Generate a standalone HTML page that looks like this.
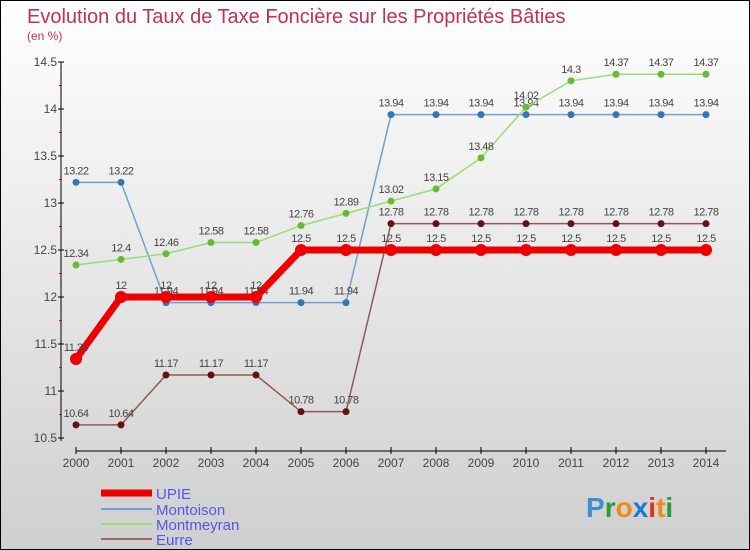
<!DOCTYPE html>
<html><head><meta charset="utf-8"><style>
body{margin:0}
#c{width:748px;height:548px;border:1px solid #000;background:linear-gradient(#fff,#cfcfcf);position:relative;font-family:"Liberation Sans",sans-serif;overflow:hidden}
</style></head><body>
<div id="c">
<svg id="s" width="748" height="548">
<text x="26" y="22" font-size="20" fill="#c0305a">Evolution du Taux de Taxe Foncière sur les Propriétés Bâties</text>
<text x="26" y="39" font-size="12" fill="#c0305a">(en %)</text>
<g font-size="15" fill="#5555ee">
<line x1="100" y1="492" x2="151" y2="492" stroke="#e00" stroke-width="7"/>
<text x="155" y="498">UPIE</text>
<line x1="100" y1="508" x2="151" y2="508" stroke="#6fa0d0" stroke-width="2"/>
<text x="155" y="514">Montoison</text>
<line x1="100" y1="523" x2="151" y2="523" stroke="#99dd77" stroke-width="2"/>
<text x="155" y="529">Montmeyran</text>
<line x1="100" y1="538" x2="151" y2="538" stroke="#996666" stroke-width="2"/>
<text x="155" y="544">Eurre</text>
</g>
<g font-size="28" font-weight="bold">
<text x="585" y="516"><tspan fill="#3a8fd0">P</tspan><tspan fill="#2a9a3a">r</tspan><tspan fill="#f08a10">o</tspan><tspan fill="#1a7ad0">x</tspan><tspan fill="#e03020">i</tspan><tspan fill="#f08a10">t</tspan><tspan fill="#2a9a3a">i</tspan></text>
</g>
</svg>
</div>
<script>
const years=["2000","2001","2002","2003","2004","2005","2006","2007","2008","2009","2010","2011","2012","2013","2014"];
const upie=[11.34,12,12,12,12,12.5,12.5,12.5,12.5,12.5,12.5,12.5,12.5,12.5,12.5];
const montoison=[13.22,13.22,11.94,11.94,11.94,11.94,11.94,13.94,13.94,13.94,13.94,13.94,13.94,13.94,13.94];
const montmeyran=[12.34,12.4,12.46,12.58,12.58,12.76,12.89,13.02,13.15,13.48,14.02,14.3,14.37,14.37,14.37];
const eurre=[10.64,10.64,11.17,11.17,11.17,10.78,10.78,12.78,12.78,12.78,12.78,12.78,12.78,12.78,12.78];
const yTicks=[10.5,11,11.5,12,12.5,13,13.5,14,14.5];
const s=document.getElementById('s'),NS='http://www.w3.org/2000/svg';
const X=i=>75+i*45, Y=v=>437-(v-10.5)*94;
function el(t,a,p){const e=document.createElementNS(NS,t);for(const k in a)e.setAttribute(k,a[k]);(p||s).appendChild(e);return e;}
const ax=el('g',{});


el('line',{x1:60,y1:61,x2:60,y2:440,stroke:'#000'},ax);
el('line',{x1:75,y1:450,x2:725,y2:450,stroke:'#000'},ax);
yTicks.forEach((v,i)=>{
  el('line',{x1:57,y1:Y(v),x2:63,y2:Y(v),stroke:'#000'},ax);
  if(i<yTicks.length-1)el('line',{x1:58,y1:Y(v)-23.5,x2:61,y2:Y(v)-23.5,stroke:'#e00'},ax);
  const t=el('text',{x:56,y:Y(v)+4,'font-size':12,fill:'#444','text-anchor':'end'},ax);t.textContent=v;
  
  
});
years.forEach((y,i)=>{
  el('line',{x1:X(i),y1:446,x2:X(i),y2:453,stroke:'#000'},ax);
  const t=el('text',{x:X(i),y:466,'font-size':12,fill:'#444','text-anchor':'middle'},ax);t.textContent=y;
  
  
});
function series(name,vals,col,dot,w,r){
  const g=el('g',{});
  
  
  el('polyline',{points:vals.map((v,i)=>X(i)+','+Y(v)).join(' '),fill:'none',stroke:col,'stroke-width':w},g);
  vals.forEach((v,i)=>{
    const c=el('circle',{cx:X(i),cy:Y(v),r:r,fill:dot},g);
    
    
    const t=el('text',{x:X(i),y:Y(v)-8,'font-size':11,fill:'#444','text-anchor':'middle','letter-spacing':'-0.5'},g);t.textContent=v;
    
    
  });
}
series('eurre',eurre,'#995555','#661111',1.5,3.5);
series('montoison',montoison,'#6fa0d0','#3377bb',1.5,3.5);
series('montmeyran',montmeyran,'#99dd77','#66bb33',1.5,3.5);
series('upie',upie,'#ee0000','#ee0000',7,6);
</script>
</body></html>
